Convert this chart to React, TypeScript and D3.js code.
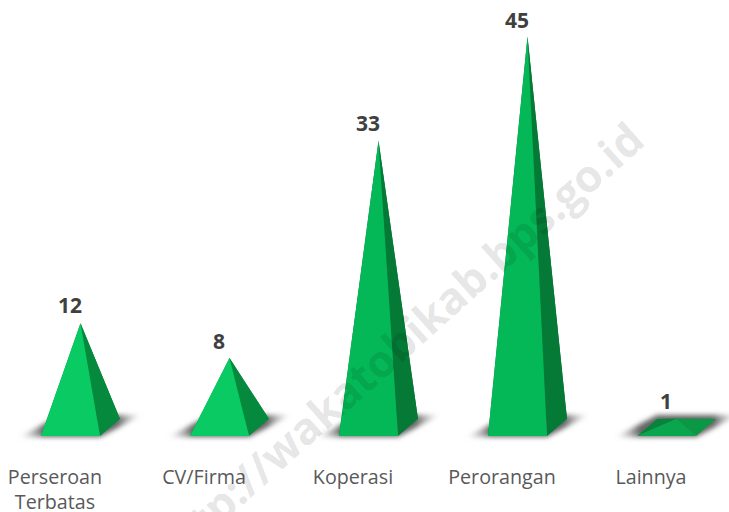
import React from "react";
import * as d3 from "d3";

const categories = ["Perseroan|Terbatas", "CV/Firma", "Koperasi", "Perorangan", "Lainnya"];
const values = [12, 8, 33, 45, 1];
const frontColors = ["#0aca64", "#0aca64", "#05b857", "#05b857", "#0aa64e"];
const sideColors = ["#04893d", "#04893d", "#047a36", "#047a36", "#0a9845"];
const backColors = ["#04893d", "#04893d", "#047a36", "#047a36", "#07843b"];
const labelOffsets = [10, 9, 10, 9, 10];
const watermark = "http://wakatobikab.bps.go.id";

const x = d3.scalePoint<string>().domain(categories).range([80.5, 676.5]);
const y = d3.scaleLinear().domain([0, 45]).range([427.5, 36.5]);
const line = d3.line();
const W = 29.5, D = 8.5, SK = 10;

export default function App() {
  return (
    <svg width={729} height={512} style={{ position: "fixed", left: 0, top: 0, background: "#fff" }}>
      <defs>
        <filter id="blur" x="-30%" y="-60%" width="160%" height="220%">
          <feGaussianBlur stdDeviation="2.8" />
        </filter>
        <linearGradient id="shadow" x1="0" x2="1" y1="0" y2="0">
          <stop offset="0" stopColor="#aaa" stopOpacity="0.05" />
          <stop offset="0.2" stopColor="#555" stopOpacity="0.9" />
          <stop offset="0.8" stopColor="#555" stopOpacity="0.9" />
          <stop offset="1" stopColor="#aaa" stopOpacity="0.05" />
        </linearGradient>
      </defs>
      {categories.map((c, i) => {
        const cx = x(c)!;
        const yc = y(0);
        const fl: [number, number] = [cx - W - SK, yc + D];
        const fr: [number, number] = [cx + W - SK, yc + D];
        const br: [number, number] = [cx + W + SK, yc - D];
        const bl: [number, number] = [cx - W + SK, yc - D];
        const apex: [number, number] = [cx, y(values[i])];
        const shadow: [number, number][] = [
          [fl[0] - 22, fl[1] + 1],
          [fr[0], fr[1] + 1],
          [br[0] + 22, br[1] - 4],
          [bl[0], bl[1] - 4],
        ];
        return (
          <g key={c}>
            <path d={line(shadow)! + "Z"} fill="url(#shadow)" filter="url(#blur)" />
            <path d={line([bl, br, apex])! + "Z"} fill={backColors[i]} />
            <path d={line([fl, bl, apex])! + "Z"} fill={backColors[i]} />
            <path d={line([fr, br, apex])! + "Z"} fill={sideColors[i]} />
            <path d={line([fl, fr, apex])! + "Z"} fill={frontColors[i]} />
            <text
              x={cx - 10.5}
              y={apex[1] - labelOffsets[i]}
              textAnchor="middle"
              fontFamily="'Open Sans'"
              fontWeight={700}
              fontSize={21}
              fill="#404040"
            >
              {values[i]}
            </text>
            {c.split("|").map((t, k) => (
              <text
                key={t}
                x={cx - 25.5}
                y={483.5 + k * 25}
                textAnchor="middle"
                fontFamily="'Open Sans'"
                fontSize={19.7}
                fill="#595959"
              >
                {t}
              </text>
            ))}
          </g>
        );
      })}
      <text
        transform="translate(170,570) rotate(-41.8)"
        fontFamily="'Open Sans'"
        fontWeight={700}
        fontSize={44}
        fill="#000"
        fillOpacity={0.11}
        stroke="#000"
        strokeOpacity={0.03}
        strokeWidth={1}
      >
        {watermark}
      </text>
    </svg>
  );
}
